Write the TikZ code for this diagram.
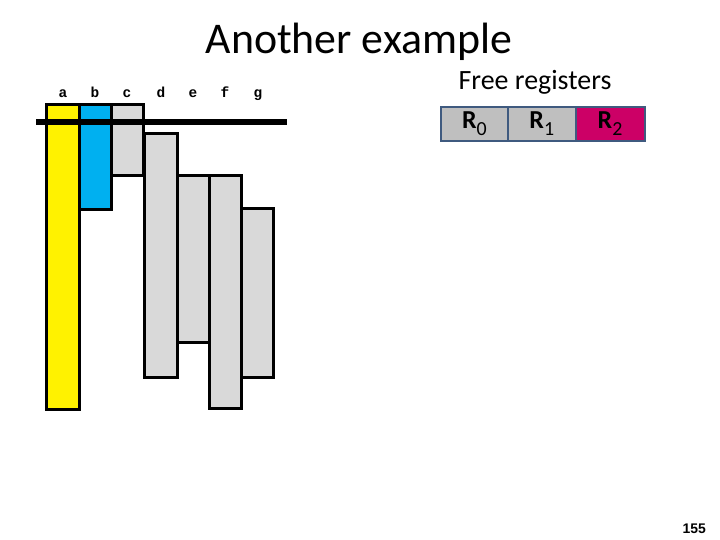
\documentclass[tikz,border=0pt]{standalone}
\usepackage{fontspec}
\setmainfont{Carlito}
\newfontfamily\monofont{Liberation Mono}
\newfontfamily\pagefont{Liberation Sans}
\definecolor{barGray}{HTML}{D9D9D9}
\definecolor{barBlue}{HTML}{00B0F0}
\definecolor{regGray}{HTML}{BFBFBF}
\definecolor{regMag}{HTML}{CC0066}
\definecolor{regEdge}{HTML}{3F5A7F}
\tikzset{
  bar/.style={draw=black, line width=3bp, anchor=north west, inner sep=0pt, outer sep=0pt},
  lbl/.style={anchor=base, inner sep=0pt, font=\monofont\bfseries\fontsize{14.5}{14.5}\selectfont},
  reg/.style={draw=regEdge, line width=2bp, minimum width=67bp, minimum height=34bp, inner sep=0pt, anchor=north west, font=\fontsize{26}{26}\selectfont},
}
\newcommand{\regname}[1]{\textbf{R}\raisebox{-7bp}{\fontsize{20}{20}\selectfont #1}}
\begin{document}
\begin{tikzpicture}[x=1bp,y=-1bp]
\useasboundingbox (0,0) rectangle (720,540);
\fill[white] (0,0) rectangle (720,540);
\node[anchor=base, inner sep=0pt, font=\fontsize{44}{44}\selectfont] (title) at (359,54) {Another example};
% bars
\node[bar, fill=yellow,   minimum width=33bp, minimum height=304bp] (a) at (46,105) {};
\node[bar, fill=barBlue,  minimum width=32bp, minimum height=104bp] (b) at (79,105) {};
\node[bar, fill=barGray,  minimum width=32bp, minimum height=71bp]  (c) at (111,105) {};
\node[bar, fill=barGray,  minimum width=33bp, minimum height=243bp] (d) at (144,134) {};
\node[bar, fill=barGray,  minimum width=32bp, minimum height=166bp] (e) at (177,176) {};
\node[bar, fill=barGray,  minimum width=32bp, minimum height=232bp] (f) at (209,176) {};
\node[bar, fill=barGray,  minimum width=32bp, minimum height=168bp] (g) at (241,209) {};
% labels
\node[lbl] (la) at (63,97.5) {a};
\node[lbl] (lb) at (95,97.5) {b};
\node[lbl] (lc) at (127,97.5) {c};
\node[lbl] (ld) at (161,97.5) {d};
\node[lbl] (le) at (193,97.5) {e};
\node[lbl] (lf) at (225,97.5) {f};
\node[lbl] (lg) at (258,97.5) {g};
% horizontal line
\coordinate (l1) at (36,122);
\coordinate (l2) at (287,122);
\draw[line width=6bp] (l1) -- (l2);
% registers
\node[anchor=base, inner sep=0pt, font=\fontsize{28}{28}\selectfont] (fr) at (535,90) {Free registers};
\node[reg, fill=regGray] (r0) at (440,106) {\regname{0}};
\node[reg, fill=regGray, minimum width=67.5bp] (r1) at (507,106) {\regname{1}};
\node[reg, fill=regMag, minimum width=69bp] (r2) at (574.5,106) {\regname{2}};
% page number
\node[anchor=base east, inner sep=0pt, font=\pagefont\bfseries\fontsize{14}{14}\selectfont] (pn) at (706,533) {155};
\end{tikzpicture}
\end{document}
